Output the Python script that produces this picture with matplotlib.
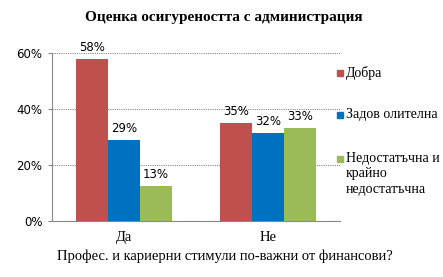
import numpy as np
import matplotlib
matplotlib.use("Agg")
import matplotlib.pyplot as plt
from matplotlib.patches import Rectangle

# данни
categories = ['Да', 'Не']
series_names = ['Добра', 'Задов олителна', 'Недостатъчна и\nкрайно\nнедостатъчна']
values = [[0.58, 0.35],
          [0.29, 0.315],
          [0.125, 0.332]]
labels = [['58%', '35%'],
          ['29%', '32%'],
          ['13%', '33%']]
colors = ['#C0504D', '#0070C0', '#9BBB59']

W, H = 443, 277
fig = plt.figure(figsize=(W/100, H/100), dpi=100)
ax = fig.add_axes([52/W, 1-221/H, 288/W, 168/H])

x = np.arange(len(categories))
w = 0.222
for i in range(3):
    pos = x + (i - 1) * w
    ax.bar(pos, values[i], width=w, color=colors[i], zorder=3)
    for p, v, t in zip(pos, values[i], labels[i]):
        ax.text(p, v + 0.018, t, ha='center', va='bottom', fontsize=8.5,
                family='DejaVu Sans', zorder=4)

ax.set_xlim(-0.5, 1.5)
ax.set_ylim(0, 0.6)
ax.set_yticks([0, 0.2, 0.4, 0.6])
ax.set_yticklabels(['0%', '20%', '40%', '60%'], family='DejaVu Sans', fontsize=8.5)
ax.set_xticks(x)
ax.set_xticklabels(categories, family='Liberation Serif', fontsize=10.5)
ax.tick_params(axis='x', length=0, pad=7)
ax.tick_params(axis='y', length=3, color='#888888', pad=4)
ax.yaxis.grid(True, linestyle=(0, (1, 1)), color='#888888', linewidth=0.8, zorder=0)
ax.spines['top'].set_visible(False)
ax.spines['right'].set_visible(False)
ax.spines['left'].set_linestyle((0, (1, 1)))
ax.spines['left'].set_color('#888888')
ax.spines['bottom'].set_color('#888888')

fig.text(225/W, 1-256/H, 'Профес. и кариерни стимули по-важни от финансови?',
         ha='center', va='center', family='Liberation Serif', fontsize=10.5)

fig.text(224/W, 1-17/H, 'Оценка осигуреността с администрация',
         ha='center', va='center', fontsize=11, fontweight='bold',
         family='Liberation Serif')

# легенда
leg_y = [73, 115, 159]
for name, col, yy in zip(series_names, colors, leg_y):
    fig.patches.append(Rectangle((337/W, 1-(yy+3)/H), 6/W, 6/H,
                                 transform=fig.transFigure, color=col))
    fig.text(346/W, 1-(yy-7)/H, name, ha='left', va='top', fontsize=10,
             family='Liberation Serif', linespacing=1.25)

fig.savefig('out.png', dpi=100)
